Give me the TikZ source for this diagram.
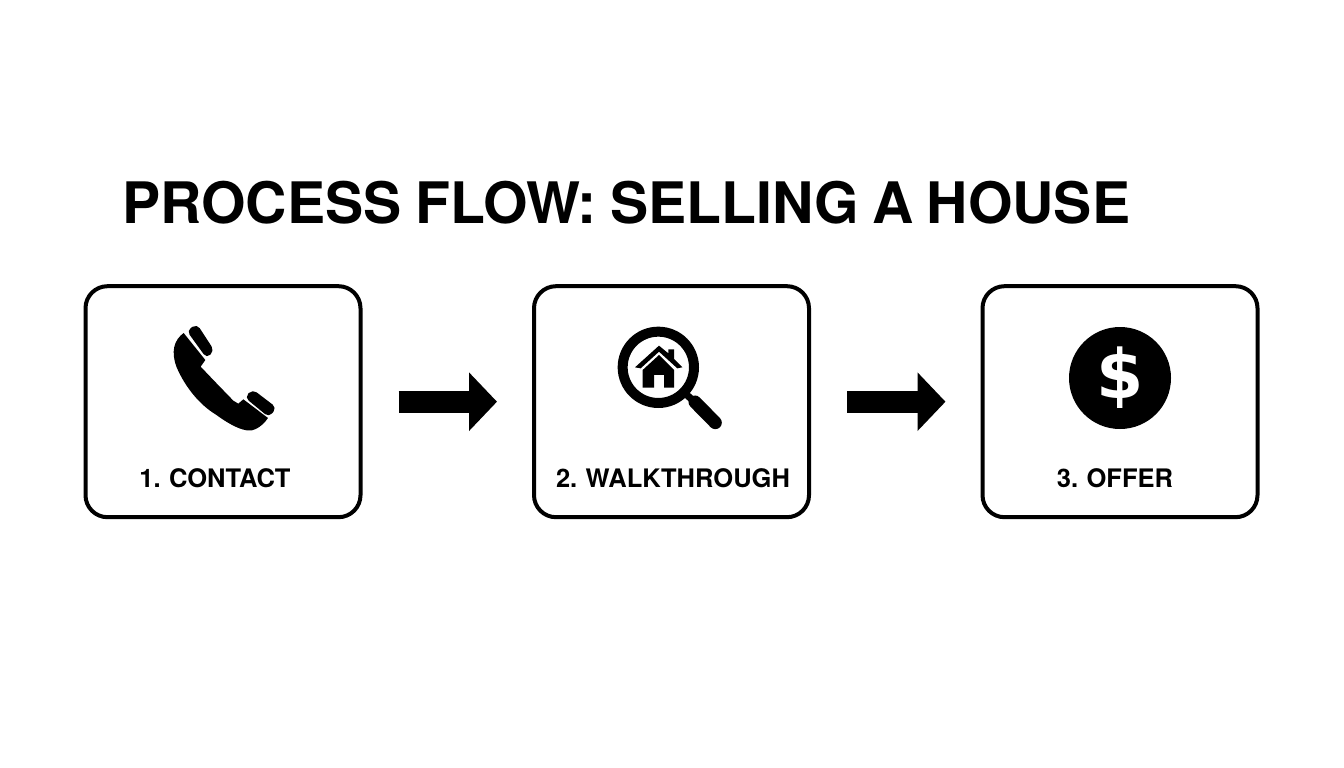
\documentclass[tikz,border=0pt]{standalone}
\usepackage{fontspec}
\setmainfont[WordSpace=0.85]{TeX Gyre Heros}
\newfontfamily\coinfont{DejaVu Sans}
\usepackage{tikz}
\usetikzlibrary{arrows.meta}
\usetikzlibrary{calc}
\tikzset{
  stepbox/.style={shape=rectangle,draw,line width=4pt,rounded corners=22pt,minimum width=275pt,minimum height=231pt,outer sep=0pt},
  steplabel/.style={font=\fontsize{25.5}{30}\bfseries\selectfont,inner sep=0pt},
  flowarrow/.style={line width=22pt,-{Triangle[length=28pt,width=57pt]},shorten <=38pt,shorten >=37pt},
}
\begin{document}
\begin{tikzpicture}[x=1pt,y=-1pt]
\useasboundingbox (0,0) rectangle (1344,768);
\node (title) [anchor=west,inner sep=0pt,font=\fontsize{57.2}{60}\bfseries\selectfont] at (122,203) {PROCESS FLOW: SELLING A HOUSE};
\node (contact) [stepbox] at (223,401.7) {};
\node (walkthrough) [stepbox] at (671.5,401.7) {};
\node (offer) [stepbox] at (1120,401.7) {};
\draw (contact.south) ++(up:39pt) ++(left:8pt) node (contactlabel) [steplabel] {1. CONTACT};
\draw (walkthrough.south) ++(up:39pt) ++(right:1.5pt) node (walkthroughlabel) [steplabel] {2. WALKTHROUGH};
\draw (offer.south) ++(up:39pt) ++(left:5pt) node (offerlabel) [steplabel] {3. OFFER};
\draw[flowarrow] (contact.east) -- (walkthrough.west);
\draw[flowarrow] (walkthrough.east) -- (offer.west);
\begin{scope}[shift={(150,310)},x=0.3333pt,y=-0.3333pt]
\fill (101,69) .. controls (72,90) and (62,125) .. (80,172) .. controls (105,230) and (148,284) .. (198,314) .. controls (240,345) and (290,372) .. (315,358) .. controls (330,352) and (345,338) .. (354,324) -- (280,268) -- (265,281) -- (250,272) -- (192,212) -- (152,170) -- (166,150) -- cycle;
\fill[rounded corners=5pt] (110,62) -- (141,42) -- (193,122) -- (170,145) -- cycle;
\fill[rounded corners=5pt] (284,262) -- (308,238) -- (380,293) -- (357,322) -- cycle;
\end{scope}
\begin{scope}[shift={(600,310)},x=0.3333pt,y=-0.3333pt]
\draw[line width=10pt] (175,172) circle [radius=107];
\draw[line width=7pt] (255,250) -- (282,274);
\draw[line width=13pt,line cap=round] (285,276) -- (346,338);
\fill (177,107) -- (205,130) -- (205,118) -- (222,118) -- (222,147) -- (247,172) -- (232,175) -- (177,125) -- (122,175) -- (105,172) -- cycle;
\fill (128,180) -- (177,135) -- (222,180) -- (222,233) -- (192,233) -- (192,195) -- (162,195) -- (162,233) -- (128,233) -- cycle;
\end{scope}
\node (coin) [shape=circle,fill=black,text=white,minimum size=102pt,inner sep=0pt,font=\coinfont\fontsize{68}{70}\bfseries\selectfont] at (1120,378) {\$};
\end{tikzpicture}
\end{document}
